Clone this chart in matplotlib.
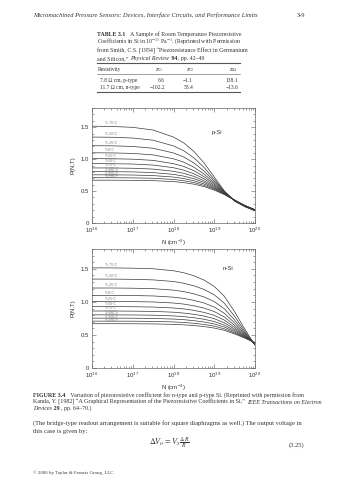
import matplotlib
matplotlib.use('Agg')
import matplotlib.pyplot as plt
from matplotlib.lines import Line2D
from matplotlib.ticker import FixedLocator, FixedFormatter, LogLocator, NullFormatter, MultipleLocator

plt.rcParams['font.family'] = ['Liberation Sans', 'DejaVu Sans']
plt.rcParams['mathtext.fontset'] = 'stix'

# ---------------- data ----------------
log_n = [16, 16.5, 17, 17.5, 18, 18.25, 18.5, 18.75, 19, 19.25, 19.5, 19.75, 20]
temp_labels = ['T=-75°C', 'T=-50°C', 'T=-25°C', 'T=0°C', 'T=25°C', 'T=50°C',
               'T=75°C', 'T=100°C', 'T=125°C', 'T=150°C', 'T=175°C']

p_si = [
    [1.515, 1.511, 1.497, 1.455, 1.345, 1.255, 1.120, 0.940, 0.720, 0.500, 0.340, 0.255, 0.190],
    [1.345, 1.342, 1.330, 1.296, 1.206, 1.132, 1.020, 0.870, 0.683, 0.494, 0.346, 0.259, 0.192],
    [1.210, 1.208, 1.198, 1.170, 1.096, 1.034, 0.940, 0.813, 0.654, 0.488, 0.350, 0.263, 0.194],
    [1.099, 1.097, 1.089, 1.066, 1.005, 0.953, 0.874, 0.766, 0.628, 0.482, 0.353, 0.265, 0.196],
    [1.007, 1.006, 0.999, 0.980, 0.929, 0.885, 0.819, 0.726, 0.607, 0.477, 0.355, 0.268, 0.198],
    [0.929, 0.928, 0.923, 0.907, 0.865, 0.827, 0.771, 0.692, 0.587, 0.472, 0.356, 0.269, 0.200],
    [0.862, 0.861, 0.857, 0.844, 0.809, 0.778, 0.730, 0.661, 0.570, 0.466, 0.357, 0.271, 0.202],
    [0.804, 0.803, 0.800, 0.789, 0.761, 0.734, 0.694, 0.635, 0.554, 0.461, 0.357, 0.272, 0.204],
    [0.754, 0.754, 0.751, 0.742, 0.719, 0.696, 0.662, 0.611, 0.541, 0.456, 0.357, 0.273, 0.206],
    [0.709, 0.709, 0.706, 0.700, 0.681, 0.662, 0.633, 0.589, 0.527, 0.450, 0.356, 0.274, 0.208],
    [0.670, 0.670, 0.668, 0.663, 0.648, 0.632, 0.608, 0.570, 0.515, 0.445, 0.355, 0.275, 0.210],
]

n_si = [
    [1.515, 1.514, 1.510, 1.501, 1.471, 1.441, 1.395, 1.330, 1.234, 1.083, 0.851, 0.588, 0.345],
    [1.345, 1.345, 1.341, 1.333, 1.308, 1.282, 1.243, 1.188, 1.107, 0.978, 0.781, 0.557, 0.349],
    [1.210, 1.210, 1.207, 1.200, 1.178, 1.156, 1.122, 1.075, 1.005, 0.895, 0.726, 0.534, 0.353],
    [1.099, 1.099, 1.096, 1.090, 1.071, 1.053, 1.023, 0.983, 0.922, 0.827, 0.681, 0.515, 0.357],
    [1.007, 1.007, 1.004, 0.999, 0.983, 0.967, 0.941, 0.906, 0.854, 0.771, 0.644, 0.500, 0.361],
    [0.929, 0.929, 0.927, 0.922, 0.908, 0.894, 0.872, 0.841, 0.796, 0.724, 0.613, 0.488, 0.365],
    [0.862, 0.862, 0.860, 0.856, 0.844, 0.831, 0.812, 0.786, 0.746, 0.683, 0.587, 0.478, 0.369],
    [0.804, 0.804, 0.802, 0.799, 0.788, 0.777, 0.761, 0.737, 0.703, 0.648, 0.565, 0.470, 0.373],
    [0.754, 0.754, 0.753, 0.750, 0.740, 0.731, 0.716, 0.696, 0.666, 0.619, 0.546, 0.463, 0.377],
    [0.709, 0.709, 0.708, 0.705, 0.697, 0.689, 0.676, 0.659, 0.633, 0.592, 0.529, 0.458, 0.381],
    [0.670, 0.670, 0.669, 0.667, 0.660, 0.653, 0.642, 0.627, 0.604, 0.569, 0.515, 0.453, 0.385],
]

y_ticks = [0, 0.5, 1.0, 1.5]
y_tick_labels = ['0', '0.5', '1.0', '1.5']
x_tick_exps = [16, 17, 18, 19, 20]

header_text = 'Micromachined Pressure Sensors: Devices, Interface Circuits, and Performance Limits'
page_number = '3-9'
table_caption = [
    [('TABLE 3.1', 'b'), ('   A Sample of Room Temperature Piezoresistive', '')],
    [(r'Coefficients in Si in 10$^{-11}$ Pa$^{-1}$. (Reprinted with Permission', '')],
    [('from Smith, C.S. [1954] \u201cPiezoresistance Effect in Germanium', '')],
    [('and Silicon,\u201d ', ''), ('Physical Review', 'i'), (' 94', 'b'), (', pp. 42\u201349', '')],
]
table_header = ['Resistivity', r'$\pi_{11}$', r'$\pi_{12}$', r'$\pi_{44}$']
table_rows = [
    ['7.8 \u03a9 cm, p-type', '6.6', '\u22121.1', '138.1'],
    ['11.7 \u03a9 cm, n-type', '\u2212102.2', '53.4', '\u221213.6'],
]
figure_caption = [
    [('FIGURE 3.4', 'b'), ('   Variation of piezoresistive coefficient for n-type and p-type Si. (Reprinted with permission from', '')],
    [('Kanda, Y. [1982] \u201cA Graphical Representation of the Piezoresistive Coefficients in Si,\u201d ', ''),
     ('IEEE Transactions on Electron', 'i')],
    [('Devices', 'i'), (' 29', 'b'), (', pp. 64\u201370.)', '')],
]
paragraph = [
    '(The bridge-type readout arrangement is suitable for square diaphragms as well.) The output voltage in',
    'this case is given by:',
]
equation = r'$\Delta V_o = V_s\,\frac{\Delta R}{R}$'
equation_number = '(3.25)'
copyright_text = '\u00a9 2006 by Taylor & Francis Group, LLC'

# ---------------- figure ----------------
W, H = 338, 480
fig = plt.figure(figsize=(W / 100, H / 100), dpi=100)
fig.patch.set_facecolor('white')
renderer = fig.canvas.get_renderer()
SERIF = ['Liberation Serif', 'DejaVu Serif']
TXT = '#333333'


def fx(x):
    return x / W


def fy(y):
    return 1 - y / H


def seg_line(x, y, segs, size):
    cur = x
    for s, st in segs:
        kw = {}
        if 'b' in st:
            kw['fontweight'] = 'bold'
        if 'i' in st:
            kw['fontstyle'] = 'italic'
        t = fig.text(fx(cur), fy(y), s, fontsize=size, family=SERIF, va='baseline', color=TXT, **kw)
        bb = t.get_window_extent(renderer)
        cur += bb.width + 0.6
    return cur - x


def seg_width(segs, size):
    n0 = len(fig.texts)
    w = seg_line(-2000, -2000, segs, size)
    for t in list(fig.texts[n0:]):
        t.remove()
    return w


def measure(s, size, **kw):
    t = fig.text(0, 0, s, fontsize=size, family=SERIF, **kw)
    w = t.get_window_extent(renderer).width
    t.remove()
    return w


# header
hs = 5.0
hs = hs * 227 / measure(header_text, hs, fontstyle='italic')
fig.text(fx(33), fy(17), header_text, fontsize=hs, family=SERIF, fontstyle='italic', va='baseline', color=TXT)
fig.text(fx(305), fy(17), page_number, fontsize=hs, family=SERIF, va='baseline', ha='right', color=TXT)

# table caption
cs = 5.0
cs = cs * 143 / seg_width(table_caption[0], cs)
for i, segs in enumerate(table_caption):
    seg_line(97, 36 + 8 * i, segs, cs)

# table
for yy, lw in [(63, 0.8), (74, 0.4), (92, 0.8)]:
    fig.add_artist(Line2D([fx(97), fx(240)], [fy(yy), fy(yy)], color='#555555', lw=lw))
hx = [98, 159, 190, 233]
for i, s in enumerate(table_header):
    fig.text(fx(hx[i]), fy(71), s, fontsize=cs * 0.95, family=SERIF, va='baseline',
             ha='left' if i == 0 else 'center', color=TXT)
rx = [100, 165, 193, 238]
for r, row in enumerate(table_rows):
    for i, s in enumerate(row):
        fig.text(fx(rx[i]), fy(82 + 7 * r), s, fontsize=cs * 0.95, family=SERIF, va='baseline',
                 ha='left' if i == 0 else 'right', color=TXT)


# ---------------- plots ----------------
def make_panel(rect, data, tag, tag_pos):
    ax = fig.add_axes(rect)
    xs = [10.0 ** v for v in log_n]
    for k, vals in enumerate(data):
        ax.plot(xs, vals, color='#3a3a3a', lw=0.5)
        ax.text(10.0 ** 16.33, vals[0] + 0.012, temp_labels[k], fontsize=2.5, color='#777777',
                va='bottom', ha='left')
    ax.set_xscale('log')
    ax.set_xlim(10.0 ** 16, 10.0 ** 20)
    ax.set_ylim(0, 1.8)
    ax.xaxis.set_major_locator(FixedLocator([10.0 ** e for e in x_tick_exps]))
    ax.xaxis.set_major_formatter(FixedFormatter([r'$\mathdefault{10^{%d}}$' % e for e in x_tick_exps]))
    ax.xaxis.set_minor_locator(LogLocator(base=10, subs=range(2, 10)))
    ax.xaxis.set_minor_formatter(NullFormatter())
    ax.yaxis.set_major_locator(FixedLocator(y_ticks))
    ax.yaxis.set_major_formatter(FixedFormatter(y_tick_labels))
    ax.yaxis.set_minor_locator(MultipleLocator(0.1))
    ax.tick_params(which='both', direction='in', top=True, right=True, color='#555555',
                   labelsize=4.3, labelcolor='#333333', pad=2, width=0.4)
    ax.tick_params(which='major', length=3)
    ax.tick_params(which='minor', length=1.6)
    for sp in ax.spines.values():
        sp.set_linewidth(0.5)
        sp.set_color('#666666')
    ax.set_xlabel(r'N (cm$^{\mathdefault{-3}}$)', fontsize=4.3, color='#333333', labelpad=2)
    ax.set_ylabel('P(N,T)', fontsize=4.3, color='#333333', labelpad=4)
    ax.text(10.0 ** tag_pos[0], tag_pos[1], tag, fontsize=4.3, color='#333333', va='center')
    return ax


make_panel([fx(92), fy(223), (255 - 92) / W, (223 - 108) / H], p_si, 'p-Si', (18.94, 1.42))
make_panel([fx(92), fy(368), (255 - 92) / W, (368 - 249) / H], n_si, 'n-Si', (19.2, 1.5))

# ---------------- figure caption & text ----------------
fs = 5.0
fs = fs * 272 / seg_width(figure_caption[0], fs)
for i, segs in enumerate(figure_caption):
    seg_line(33, 397 + 6.5 * i, segs, fs)

ps = 5.0
ps = ps * 272 / measure(paragraph[0], ps)
for i, s in enumerate(paragraph):
    fig.text(fx(33), fy(424.5 + 8 * i), s, fontsize=ps, family=SERIF, va='baseline', color=TXT)

fig.text(fx(169), fy(443), equation, fontsize=ps * 1.25, ha='center', va='center', color=TXT)
fig.text(fx(304), fy(447), equation_number, fontsize=ps, family=SERIF, ha='right', va='baseline', color=TXT)
fig.text(fx(33), fy(474), copyright_text, fontsize=ps * 0.75, family=SERIF, va='baseline', color=TXT)

fig.savefig('out.png', dpi=100, facecolor='white')
